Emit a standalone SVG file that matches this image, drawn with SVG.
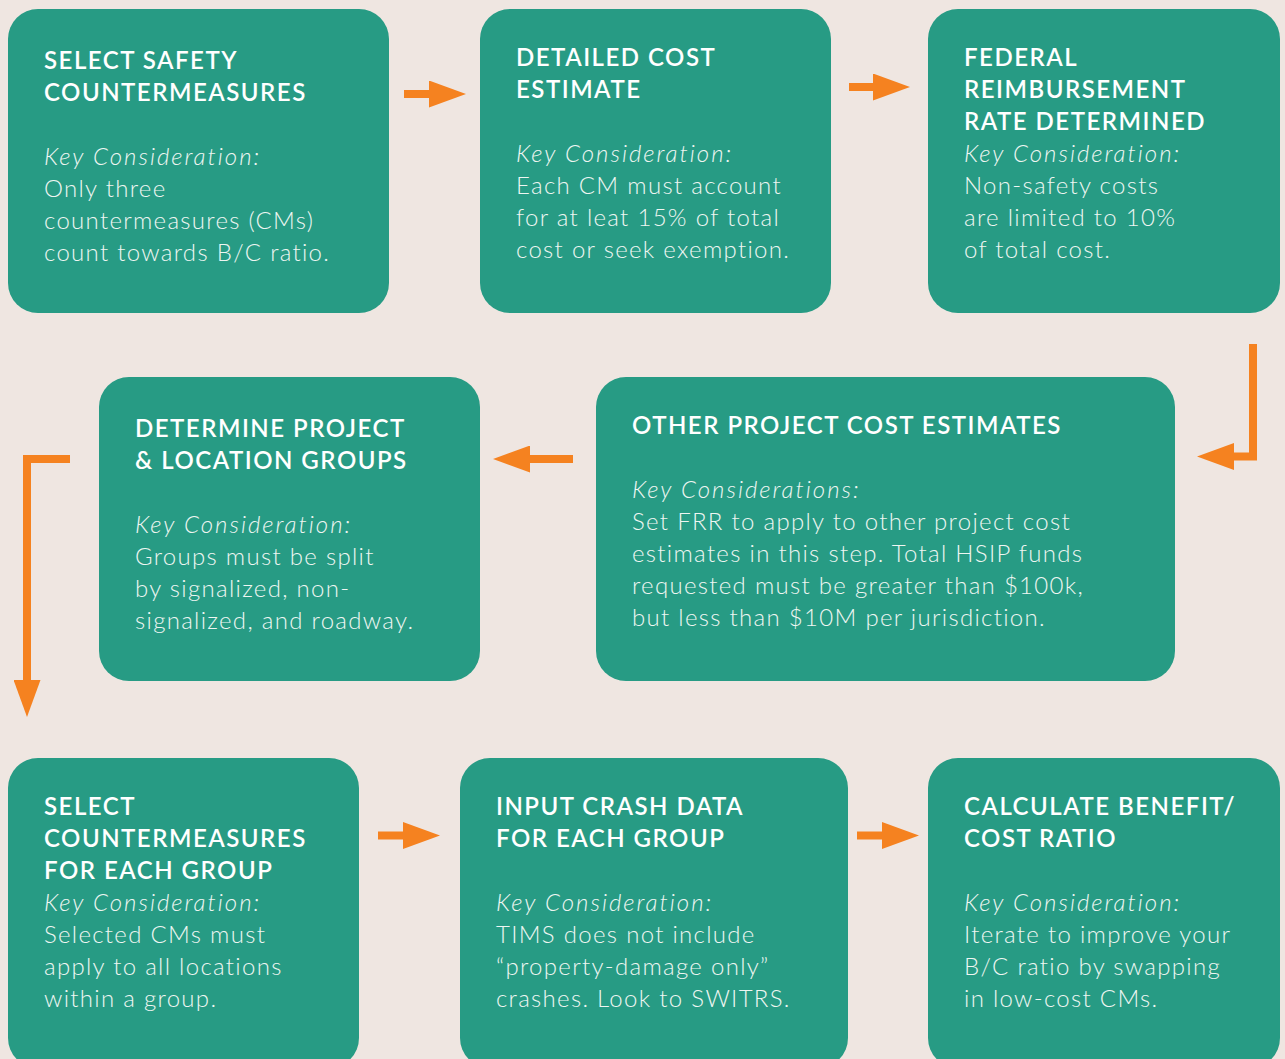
<svg xmlns="http://www.w3.org/2000/svg" width="1285" height="1059" viewBox="0 0 1285 1059">
  <style>
    .box { fill: #279b84; }
    .title { font-family: Lato, "Liberation Sans", sans-serif; font-weight: 600; font-size: 24px; letter-spacing: 1.5px; fill: #ffffff; }
    .key { font-family: Lato, "Liberation Sans", sans-serif; font-weight: 300; font-style: italic; font-size: 24px; letter-spacing: 2px; fill: #eef6f2; }
    .body { font-family: Lato, "Liberation Sans", sans-serif; font-weight: 300; font-size: 24px; letter-spacing: 1.3px; fill: #eef6f2; }
    .flow { fill: none; stroke: #f58220; stroke-width: 8; stroke-linejoin: miter; marker-end: url(#head); }
  </style>
  <defs>
    <marker id="head" markerUnits="userSpaceOnUse" markerWidth="37" markerHeight="27" refX="0" refY="13.5" orient="auto">
      <path d="M0,0 L37,13.5 L0,27 Z" fill="#f58220"/>
    </marker>
  </defs>

  <rect width="1285" height="1059" fill="#efe6e1"/>

  <!-- Row 1 -->
  <g id="select-safety-countermeasures">
    <rect class="box" x="8" y="9" width="381" height="304" rx="30"/>
    <text class="title" x="44" y="69">SELECT SAFETY</text>
    <text class="title" x="44" y="101">COUNTERMEASURES</text>
    <text class="key" x="44" y="165">Key Consideration:</text>
    <text class="body" x="44" y="197">Only three</text>
    <text class="body" x="44" y="229">countermeasures (CMs)</text>
    <text class="body" x="44" y="261">count towards B/C ratio.</text>
  </g>

  <g id="detailed-cost-estimate">
    <rect class="box" x="480" y="9" width="351" height="304" rx="30"/>
    <text class="title" x="516" y="66">DETAILED COST</text>
    <text class="title" x="516" y="98">ESTIMATE</text>
    <text class="key" x="516" y="162">Key Consideration:</text>
    <text class="body" x="516" y="194">Each CM must account</text>
    <text class="body" x="516" y="226">for at leat 15% of total</text>
    <text class="body" x="516" y="258">cost or seek exemption.</text>
  </g>

  <g id="federal-reimbursement-rate">
    <rect class="box" x="928" y="9" width="352" height="304" rx="30"/>
    <text class="title" x="964" y="66">FEDERAL</text>
    <text class="title" x="964" y="98">REIMBURSEMENT</text>
    <text class="title" x="964" y="130">RATE DETERMINED</text>
    <text class="key" x="964" y="162">Key Consideration:</text>
    <text class="body" x="964" y="194">Non-safety costs</text>
    <text class="body" x="964" y="226">are limited to 10%</text>
    <text class="body" x="964" y="258">of total cost.</text>
  </g>

  <!-- Row 2 -->
  <g id="determine-project-location-groups">
    <rect class="box" x="99" y="377" width="381" height="304" rx="30"/>
    <text class="title" x="135" y="437">DETERMINE PROJECT</text>
    <text class="title" x="135" y="469">&amp; LOCATION GROUPS</text>
    <text class="key" x="135" y="533">Key Consideration:</text>
    <text class="body" x="135" y="565">Groups must be split</text>
    <text class="body" x="135" y="597">by signalized, non-</text>
    <text class="body" x="135" y="629">signalized, and roadway.</text>
  </g>

  <g id="other-project-cost-estimates">
    <rect class="box" x="596" y="377" width="579" height="304" rx="30"/>
    <text class="title" x="632" y="434">OTHER PROJECT COST ESTIMATES</text>
    <text class="key" x="632" y="498">Key Considerations:</text>
    <text class="body" x="632" y="530">Set FRR to apply to other project cost</text>
    <text class="body" x="632" y="562">estimates in this step. Total HSIP funds</text>
    <text class="body" x="632" y="594">requested must be greater than $100k,</text>
    <text class="body" x="632" y="626">but less than $10M per jurisdiction.</text>
  </g>

  <!-- Row 3 -->
  <g id="select-countermeasures-each-group">
    <rect class="box" x="8" y="758" width="351" height="310" rx="30"/>
    <text class="title" x="44" y="815">SELECT</text>
    <text class="title" x="44" y="847">COUNTERMEASURES</text>
    <text class="title" x="44" y="879">FOR EACH GROUP</text>
    <text class="key" x="44" y="911">Key Consideration:</text>
    <text class="body" x="44" y="943">Selected CMs must</text>
    <text class="body" x="44" y="975">apply to all locations</text>
    <text class="body" x="44" y="1007">within a group.</text>
  </g>

  <g id="input-crash-data">
    <rect class="box" x="460" y="758" width="388" height="310" rx="30"/>
    <text class="title" x="496" y="815">INPUT CRASH DATA</text>
    <text class="title" x="496" y="847">FOR EACH GROUP</text>
    <text class="key" x="496" y="911">Key Consideration:</text>
    <text class="body" x="496" y="943">TIMS does not include</text>
    <text class="body" x="496" y="975">“property-damage only”</text>
    <text class="body" x="496" y="1007">crashes. Look to SWITRS.</text>
  </g>

  <g id="calculate-benefit-cost-ratio">
    <rect class="box" x="928" y="758" width="352" height="310" rx="30"/>
    <text class="title" x="964" y="815">CALCULATE BENEFIT/</text>
    <text class="title" x="964" y="847">COST RATIO</text>
    <text class="key" x="964" y="911">Key Consideration:</text>
    <text class="body" x="964" y="943">Iterate to improve your</text>
    <text class="body" x="964" y="975">B/C ratio by swapping</text>
    <text class="body" x="964" y="1007">in low-cost CMs.</text>
  </g>

  <!-- Connectors -->
  <g id="connectors">
    <path class="flow" d="M404,94 H429"/>
    <path class="flow" d="M849,87 H873"/>
    <path class="flow" d="M1253,344 V456.5 H1234"/>
    <path class="flow" d="M573,459 H530"/>
    <path class="flow" d="M70,459 H27 V680"/>
    <path class="flow" d="M378,835.5 H403"/>
    <path class="flow" d="M857,835.5 H882"/>
  </g>
</svg>
